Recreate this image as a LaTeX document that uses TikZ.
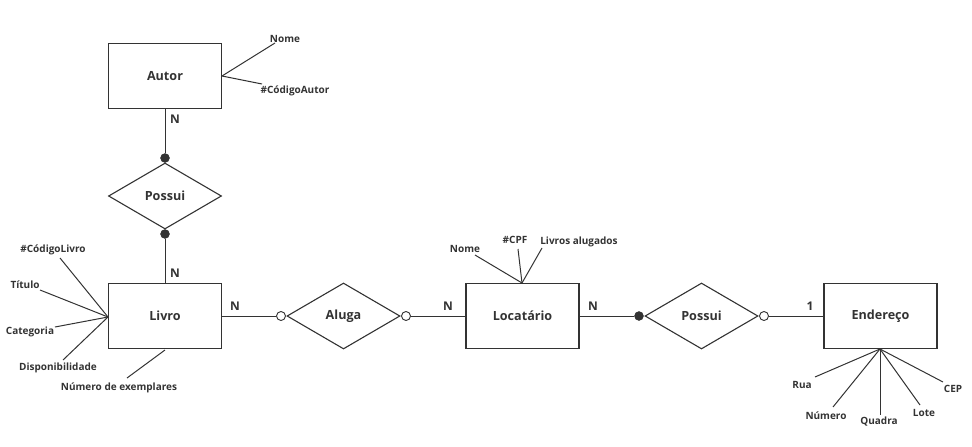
\documentclass[tikz,border=0pt]{standalone}
\usepackage{fontspec}
\setmainfont{Open Sans}
\usetikzlibrary{shapes.geometric}
\definecolor{ink}{HTML}{333333}
\begin{document}
\begin{tikzpicture}[x=1pt,y=-1pt,
  entity/.style={draw=ink,line width=1.1pt,minimum width=113pt,minimum height=65pt,inner sep=0pt,font=\bfseries\fontsize{12.6}{14}\selectfont,text=ink},
  relation/.style={draw=ink,line width=1.1pt,diamond,aspect=1.72,minimum width=113pt,minimum height=66pt,inner sep=0pt,font=\bfseries\fontsize{12.6}{14}\selectfont,text=ink},
  link/.style={draw=ink,line width=1pt},
  attr/.style={font=\bfseries\fontsize{10}{12}\selectfont,text=ink,inner sep=0pt,yshift=-1.5pt},
  card/.style={font=\bfseries\fontsize{12}{13}\selectfont,text=ink,inner sep=0pt},
  fulldot/.style={circle,fill=ink,draw=ink,minimum size=9pt,inner sep=0pt},
  opendot/.style={circle,fill=white,draw=ink,line width=0.9pt,minimum size=9pt,inner sep=0pt}]
\useasboundingbox (0,0) rectangle (972,447);

% entities
\node[entity] (autor) at (165,76) {Autor};
\node[entity] (livro) at (165,316) {Livro};
\node[entity] (loc) at (522.5,316) {Locatário};
\node[entity] (end) at (880.5,316) {Endereço};

% relationships
\node[relation] (possuiA) at (165,196) {Possui};
\node[relation] (aluga) at (343.5,316) {Aluga};
\node[relation] (possuiB) at (701.5,316) {Possui};

% participation markers
\node[fulldot] (d1) at (165,158) {};
\node[fulldot] (d2) at (165,234) {};
\node[opendot] (o1) at (281,316) {};
\node[opendot] (o2) at (406,316) {};
\node[fulldot] (d3) at (639,316) {};
\node[opendot] (o3) at (764,316) {};

% connectors
\draw[link] (autor.south) -- (d1);
\draw[link] (d2) -- (livro.north);
\draw[link] (livro.east) -- (o1);
\draw[link] (o2) -- (loc.west);
\draw[link] (loc.east) -- (d3);
\draw[link] (o3) -- (end.west);

% cardinalities
\node[card] (c1) at (175,119) {N};
\node[card] (c2) at (175,273) {N};
\node[card] (c3) at (235,306) {N};
\node[card] (c4) at (448,306) {N};
\node[card] (c5) at (593,306) {N};
\node[card] (c6) at (810,306) {1};

% Autor attributes
\coordinate (aA) at (222,76);
\coordinate (eNomeA) at (275,43);
\coordinate (eCodA) at (262,84);
\node[attr] (tNomeA) at (285,37) {Nome};
\node[attr] (tCodA) at (295,89) {\#CódigoAutor};
\draw[link] (aA) -- (eNomeA);
\draw[link] (aA) -- (eCodA);

% Livro attributes
\coordinate (aL) at (108,317);
\coordinate (eCodL) at (60,258);
\coordinate (eTit) at (40,290);
\coordinate (eCat) at (55,327);
\coordinate (eDisp) at (63,360);
\coordinate (aL2) at (165,350);
\coordinate (eNum) at (127,378);
\node[attr] (tCodL) at (53,248) {\#CódigoLivro};
\node[attr] (tTit) at (25,283) {Título};
\node[attr] (tCat) at (30,330) {Categoria};
\node[attr] (tDisp) at (58,366) {Disponibilidade};
\node[attr] (tNum) at (119,386) {Número de exemplares};
\draw[link] (aL) -- (eCodL);
\draw[link] (aL) -- (eTit);
\draw[link] (aL) -- (eCat);
\draw[link] (aL) -- (eDisp);
\draw[link] (aL2) -- (eNum);

% Locatario attributes
\coordinate (aP) at (522,283);
\coordinate (eNomeP) at (475,255);
\coordinate (eCPF) at (518,249);
\coordinate (eLiv) at (542,248);
\node[attr] (tNomeP) at (465,247) {Nome};
\node[attr] (tCPF) at (515,238) {\#CPF};
\node[attr] (tLiv) at (579,240) {Livros alugados};
\draw[link] (aP) -- (eNomeP);
\draw[link] (aP) -- (eCPF);
\draw[link] (aP) -- (eLiv);

% Endereco attributes
\coordinate (aE) at (880,349);
\coordinate (eRua) at (815,377);
\coordinate (eNumE) at (833,407);
\coordinate (eQua) at (880,415);
\coordinate (eLote) at (920,405);
\coordinate (eCEP) at (943,382);
\node[attr] (tRua) at (802,383) {Rua};
\node[attr] (tNumE) at (826,414) {Número};
\node[attr] (tQua) at (879,420) {Quadra};
\node[attr] (tLote) at (924,411) {Lote};
\node[attr] (tCEP) at (953,387) {CEP};
\draw[link] (aE) -- (eRua);
\draw[link] (aE) -- (eNumE);
\draw[link] (aE) -- (eQua);
\draw[link] (aE) -- (eLote);
\draw[link] (aE) -- (eCEP);
\end{tikzpicture}
\end{document}
